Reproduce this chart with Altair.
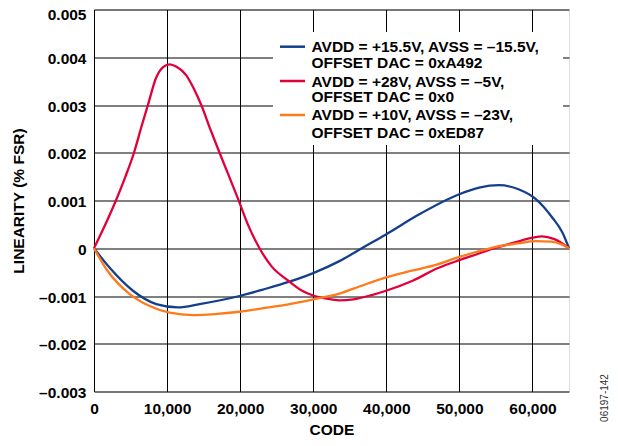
import altair as alt
import pandas as pd

# ---------------- data ----------------
series_names = [
    "AVDD = +15.5V, AVSS = –15.5V, OFFSET DAC = 0xA492",
    "AVDD = +28V, AVSS = –5V, OFFSET DAC = 0x0",
    "AVDD = +10V, AVSS = –23V, OFFSET DAC = 0xED87",
]
series_colors = ["#143f8c", "#e2003b", "#ff7a1a"]

blue_code = [0, 2150, 5330, 8530, 11480, 14450, 19910, 23000, 26750, 30000, 33580,
             36760, 39960, 44510, 49980, 52710, 55440, 58170, 60460, 62730, 64100, 65000]
blue_val = [0, -0.00041, -0.00089, -0.00117, -0.00124, -0.00117, -0.00100, -0.00087,
            -0.00070, -0.00052, -0.00027, 0.00001, 0.00029, 0.00071, 0.00113, 0.00127,
            0.00132, 0.00123, 0.00103, 0.00064, 0.00033, 0]

red_code = [0, 1500, 3000, 4300, 5470, 6500, 7380, 8530, 9500, 10350, 11300, 12630,
            13700, 14680, 15900, 17180, 18500, 19700, 21050, 22650, 24300, 26500, 28350,
            30170, 32440, 33580, 35500, 38000, 39960, 43600, 47000, 49980, 52500, 55000,
            58000, 60000, 61300, 63000, 65000]
red_val = [0, 0.00048, 0.00100, 0.00150, 0.00200, 0.00255, 0.00300, 0.00358, 0.00380,
           0.00385, 0.00380, 0.00362, 0.00333, 0.00300, 0.00250, 0.00200, 0.00150,
           0.00104, 0.00050, 0.0, -0.00038, -0.00067, -0.00088, -0.00100, -0.00107,
           -0.00109, -0.00107, -0.00098, -0.00089, -0.00068, -0.00042, -0.00025,
           -0.00012, 0.00001, 0.00014, 0.00022, 0.00025, 0.00019, 0]

orange_code = [0, 1700, 4880, 7610, 10340, 13530, 16500, 19910, 23000, 26750, 30000,
               33580, 36500, 39960, 43500, 46790, 49980, 52500, 55000, 58000, 60460,
               62500, 64000, 65000]
orange_val = [0, -0.00044, -0.00096, -0.00121, -0.00135, -0.00140, -0.00138, -0.00133,
              -0.00126, -0.00117, -0.00107, -0.00095, -0.00079, -0.00061, -0.00047,
              -0.00035, -0.00018, -0.00007, 0.00003, 0.00010, 0.00015, 0.00014,
              0.00008, 0]

x_ticks = [0, 10000, 20000, 30000, 40000, 50000, 60000]
y_ticks = [-0.003, -0.002, -0.001, 0, 0.001, 0.002, 0.003, 0.004, 0.005]

legend_lines = [
    ["AVDD = +15.5V, AVSS = –15.5V,", "OFFSET DAC = 0xA492"],
    ["AVDD = +28V, AVSS = –5V,", "OFFSET DAC = 0x0"],
    ["AVDD = +10V, AVSS = –23V,", "OFFSET DAC = 0xED87"],
]
figure_id = "06197-142"

# ---------------- build table ----------------
rows = []
for name, codes, vals in zip(series_names,
                             [blue_code, red_code, orange_code],
                             [blue_val, red_val, orange_val]):
    for i, (c, v) in enumerate(zip(codes, vals)):
        rows.append({"series": name, "code": c, "lin": v, "order": i})
df = pd.DataFrame(rows)

FONT = "Liberation Sans"
FS = 15.5
W, H = 475, 382

x_scale = alt.Scale(domain=[0, 65000], nice=False, zero=False)
y_scale = alt.Scale(domain=[-0.003, 0.005], nice=False)

lines = alt.Chart(df).mark_line(strokeWidth=2.3, interpolate="monotone").encode(
    x=alt.X("code:Q", scale=x_scale,
            axis=alt.Axis(values=x_ticks, format=",d", title="CODE",
                          grid=True, gridColor="black", gridWidth=1, gridOpacity=1,
                          ticks=False, domain=False, labelPadding=10,
                          labelFont=FONT, labelFontSize=FS, labelFontWeight="bold",
                          labelColor="black", labelFlush=False,
                          titleFont=FONT, titleFontSize=FS, titleFontWeight="bold",
                          titleColor="black", titlePadding=5)),
    y=alt.Y("lin:Q", scale=y_scale,
            axis=alt.Axis(values=y_ticks, title="LINEARITY (% FSR)",
                          labelExpr="abs(datum.value) < 1e-9 ? '0' : (datum.value < 0 ? '–' : '') + format(abs(datum.value), '.3f')",
                          labelOffset={"condition": {"test": "datum.value > 0.0045", "value": 5},
                                       "value": 1},
                          grid=True, gridColor="black", gridWidth=1, gridOpacity=1,
                          ticks=False, domain=False, labelPadding=8,
                          labelFont=FONT, labelFontSize=FS, labelFontWeight="bold",
                          labelColor="black", labelFlush=False,
                          titleFont=FONT, titleFontSize=FS, titleFontWeight="bold",
                          titleColor="black", titlePadding=12)),
    color=alt.Color("series:N", scale=alt.Scale(domain=series_names, range=series_colors),
                    legend=None),
    order="order:Q",
    detail="series:N",
)

one = pd.DataFrame({"k": [0]})

legend_bg = alt.Chart(one).mark_rect(color="white").encode(
    x=alt.value(179), x2=alt.value(469), y=alt.value(22.5), y2=alt.value(135.5)
)

layers = [lines, legend_bg]

sym_y = [37.2, 71.5, 105.5]
text_y = [(42.5, 58.2), (77.2, 92.2), (110.5, 128.8)]
for col, sy, (t1, t2), txt in zip(series_colors, sym_y, text_y, legend_lines):
    layers.append(alt.Chart(one).mark_rule(color=col, strokeWidth=2.5).encode(
        x=alt.value(186), x2=alt.value(211), y=alt.value(sy)))
    layers.append(alt.Chart(one).mark_text(
        text=txt[0], font=FONT, fontSize=FS, fontWeight="bold", color="black",
        align="left", baseline="alphabetic").encode(x=alt.value(217.5), y=alt.value(t1)))
    layers.append(alt.Chart(one).mark_text(
        text=txt[1], font=FONT, fontSize=FS, fontWeight="bold", color="black",
        align="left", baseline="alphabetic").encode(x=alt.value(217.5), y=alt.value(t2)))

layers.append(alt.Chart(one).mark_text(
    text=figure_id, font=FONT, fontSize=10, color="#333333", angle=270,
    align="center", baseline="middle").encode(x=alt.value(511), y=alt.value(388.5)))

chart = alt.layer(*layers).properties(
    width=W, height=H,
    autosize=alt.AutoSizeParams(type="none"),
    padding={"left": 86, "top": 1.5, "right": 41, "bottom": 46},
).configure_view(stroke="black", strokeWidth=2).configure(background="white")

chart.save("out.html", embed_options={"renderer": "svg", "actions": False})
